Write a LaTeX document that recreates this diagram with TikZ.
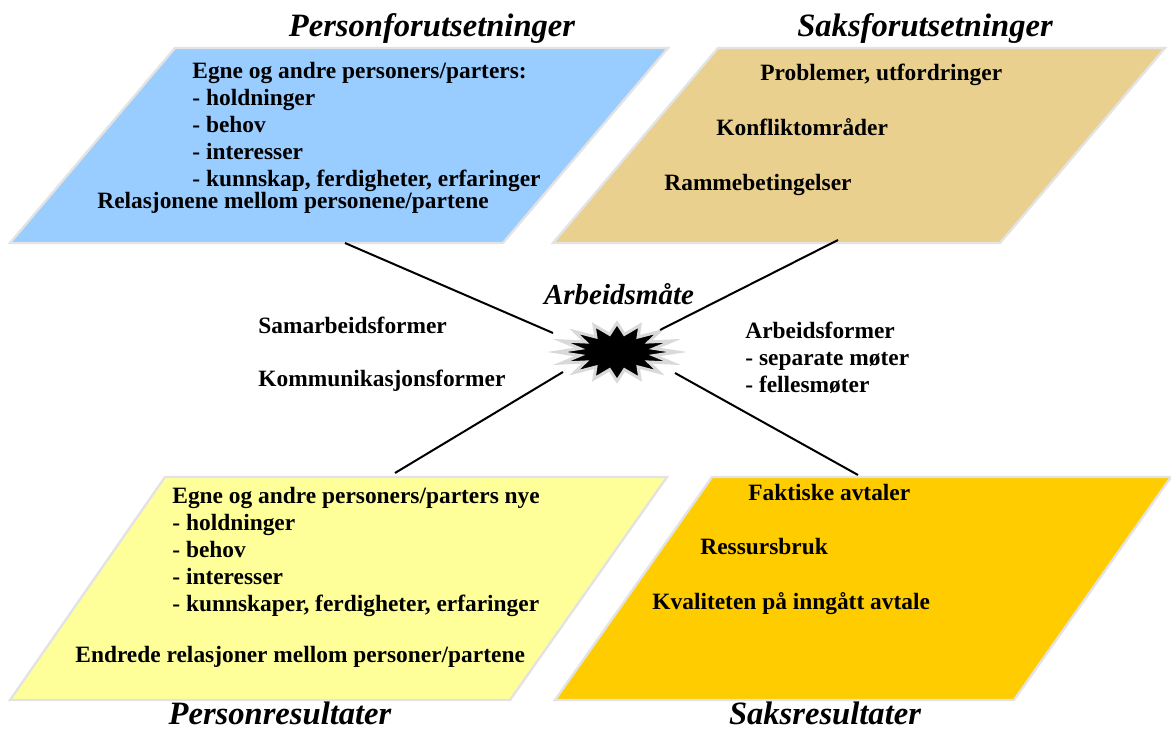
\documentclass[tikz,border=0pt]{standalone}
\usepackage{fontspec}
\setmainfont{Liberation Serif}
\definecolor{blaa}{HTML}{99CCFF}
\definecolor{sand}{HTML}{E9D08E}
\definecolor{gul}{HTML}{FFFF99}
\definecolor{oransje}{HTML}{FFCC00}
\begin{document}
\begin{tikzpicture}[x=0.5pt,y=-0.5pt,
    felt/.style={draw=gray!22, line width=1.2pt},
    tekst/.style={inner sep=0pt, align=left, font=\bfseries\fontsize{11.7}{13.5}\selectfont},
    tittel/.style={anchor=base, inner sep=0pt, font=\bfseries\itshape\fontsize{16.3}{19}\selectfont},
    linje/.style={line width=1pt}]
    \useasboundingbox (0,0) rectangle (1171,731);
    % de fire feltene
    \filldraw [felt, fill=blaa] (175,48) -- (668,48) -- (503,243) -- (10,243) -- cycle;
    \filldraw [felt, fill=sand] (718,48) -- (1165,48) -- (1000,243) -- (553,243) -- cycle;
    \filldraw [felt, fill=gul] (165,477) -- (667,477) -- (510,700) -- (10,700) -- cycle;
    \filldraw [felt, fill=oransje] (712,477) -- (1171,477) -- (1014,700) -- (555,700) -- cycle;
    % titler
    \node [tittel] (pf) at (432,37) {Personforutsetninger};
    \node [tittel] (sf) at (925,37) {Saksforutsetninger};
    \node [tittel] (pr) at (280,724) {Personresultater};
    \node [tittel] (sr) at (825,724) {Saksresultater};
    \node [tittel, font=\bfseries\itshape\fontsize{14.5}{17}\selectfont] (am) at (619,305) {Arbeidsmåte};
    % stjerna i midten
    \filldraw [draw=gray!30, line width=1.5pt, fill=black]
        (677,352) \foreach \i in {1,...,31} {
            -- ({617+(mod(\i,2)==0 ? 60 : 38)*cos(\i*11.25)},{352+(mod(\i,2)==0 ? 29 : 18)*sin(\i*11.25)})
        } -- cycle;
    % endepunkter for linjene
    \coordinate (pfEnde) at (345,243);
    \coordinate (sfEnde) at (838,240);
    \coordinate (prEnde) at (395,473);
    \coordinate (srEnde) at (858,475);
    \coordinate (stjVO) at (553,333);
    \coordinate (stjHO) at (660,330);
    \coordinate (stjVN) at (563,372);
    \coordinate (stjHN) at (675,373);
    \draw [linje] (pfEnde) -- (stjVO);
    \draw [linje] (sfEnde) -- (stjHO);
    \draw [linje] (prEnde) -- (stjVN);
    \draw [linje] (srEnde) -- (stjHN);
    % tekst i feltene
    \node [tekst, anchor=north west] (pfListe) at (192,62) {Egne og andre personers/parters:\\- holdninger\\- behov\\- interesser\\- kunnskap, ferdigheter, erfaringer};
    \node [tekst, anchor=base west] (pfRel) at (97,209) {Relasjonene mellom personene/partene};
    \node [tekst, anchor=base west] (sfProb) at (760,81) {Problemer, utfordringer};
    \node [tekst, anchor=base west] (sfKonf) at (716,136) {Konfliktområder};
    \node [tekst, anchor=base west] (sfRamme) at (664,191) {Rammebetingelser};
    \node [tekst, anchor=north west] (prListe) at (172,487) {Egne og andre personers/parters nye\\- holdninger\\- behov\\- interesser\\- kunnskaper, ferdigheter, erfaringer};
    \node [tekst, anchor=base west] (prRel) at (75,662) {Endrede relasjoner mellom personer/partene};
    \node [tekst, anchor=base west] (srAvt) at (748,500) {Faktiske avtaler};
    \node [tekst, anchor=base west] (srRes) at (700,554) {Ressursbruk};
    \node [tekst, anchor=base west] (srKval) at (652,609) {Kvaliteten på inngått avtale};
    % tekst rundt stjerna
    \node [tekst, anchor=base west] (samarb) at (258,334) {Samarbeidsformer};
    \node [tekst, anchor=base west] (komm) at (258,387) {Kommunikasjonsformer};
    \node [tekst, anchor=north west] (arbf) at (745,322) {Arbeidsformer\\- separate møter\\- fellesmøter};
\end{tikzpicture}
\end{document}
